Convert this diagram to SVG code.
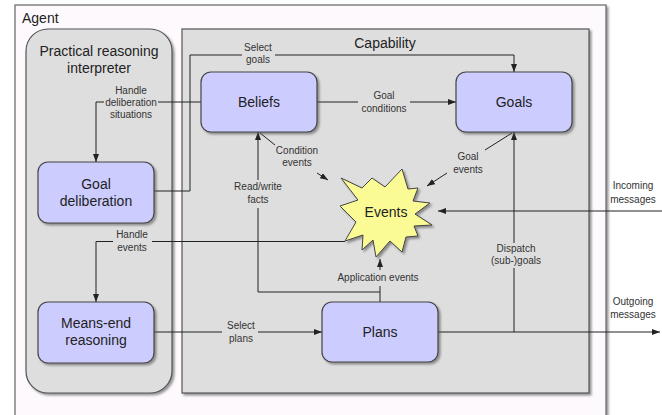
<svg xmlns="http://www.w3.org/2000/svg" width="662" height="415" viewBox="0 0 662 415">
<style>
text{font-family:"Liberation Sans",Arial,sans-serif;fill:#222}
.t14{font-size:14px}
.t10{font-size:10px;fill:#333}
.c{text-anchor:middle}
.node{fill:#ccccff;stroke:#444;stroke-width:1.2}
.grp{fill:#dedede;stroke:#555;stroke-width:1.2}
.con{fill:none;stroke:#222;stroke-width:1}
.arr{fill:none;stroke:#222;stroke-width:1;marker-end:url(#ah)}
</style>
<defs>
<marker id="ah" viewBox="0 0 8 6" refX="8" refY="3" markerWidth="8" markerHeight="6" markerUnits="userSpaceOnUse" orient="auto">
<path d="M0,0 L8,3 L0,6 z" fill="#222"/>
</marker>
<filter id="sh" x="-10%" y="-10%" width="130%" height="130%">
<feDropShadow dx="2" dy="2" stdDeviation="1" flood-color="#555" flood-opacity="0.6"/>
</filter>
</defs>
<rect width="662" height="415" fill="#ffffff"/>
<g id="agent">
<rect x="15" y="5" width="591" height="420" fill="#fdf9fd" stroke="#666" stroke-width="1.2" filter="url(#sh)"/>
<text class="t14" x="22" y="23">Agent</text>
</g>
<g id="interpreter">
<rect class="grp" x="26" y="29" width="146" height="364" rx="22" filter="url(#sh)"/>
<text class="t14 c" x="99" y="56">Practical reasoning</text>
<text class="t14 c" x="99" y="73">interpreter</text>
</g>
<g id="capability">
<rect class="grp" x="182" y="29" width="407" height="364" filter="url(#sh)"/>
<text class="t14 c" x="385" y="48">Capability</text>
</g>
<g id="connectors">
<path class="arr" d="M201,102 H158 M104,102 H96 V162"/>
<path class="arr" d="M154,191 H190 V55 H242 M275,55 H514 V72"/>
<path class="arr" d="M317,102 H358 M410,102 H456"/>
<path class="con" d="M260,133 L275,145"/>
<path class="arr" d="M317,173 L328,180"/>
<path class="con" d="M512,133 L485,150"/>
<path class="arr" d="M447,173 L427,186"/>
<path class="arr" d="M662,211 H438"/>
<path class="arr" d="M345,241.5 H152 M113,241.5 H96 V302"/>
<path class="arr" d="M380,292 H258 V208 M258,180 V132"/>
<path class="con" d="M380,302 V286"/>
<path class="arr" d="M380,270 V259"/>
<path class="arr" d="M154,332 H222 M258,332 H322"/>
<path class="arr" d="M438,332 H660"/>
<path class="arr" d="M514,332 V268 M514,243 V132"/>
<text class="t10 c" x="131" y="94">Handle</text>
<text class="t10 c" x="131" y="106">deliberation</text>
<text class="t10 c" x="131" y="118">situations</text>
<text class="t10 c" x="258" y="51">Select</text>
<text class="t10 c" x="258" y="63">goals</text>
<text class="t10 c" x="384" y="99">Goal</text>
<text class="t10 c" x="384" y="112">conditions</text>
<text class="t10 c" x="297" y="154">Condition</text>
<text class="t10 c" x="297" y="166">events</text>
<text class="t10 c" x="468" y="160">Goal</text>
<text class="t10 c" x="468" y="173">events</text>
<text class="t10 c" x="633" y="189">Incoming</text>
<text class="t10 c" x="633" y="203">messages</text>
<text class="t10 c" x="132" y="238">Handle</text>
<text class="t10 c" x="132" y="251">events</text>
<text class="t10 c" x="258" y="190">Read/write</text>
<text class="t10 c" x="258" y="203">facts</text>
<text class="t10 c" x="378" y="281">Application events</text>
<text class="t10 c" x="241" y="329">Select</text>
<text class="t10 c" x="241" y="342">plans</text>
<text class="t10 c" x="633" y="305">Outgoing</text>
<text class="t10 c" x="633" y="318">messages</text>
<text class="t10 c" x="516" y="252">Dispatch</text>
<text class="t10 c" x="516" y="264">(sub-)goals</text>
</g>
<g id="beliefs">
<rect class="node" x="201" y="72" width="116" height="60" rx="10" filter="url(#sh)"/>
<text class="t14 c" x="259" y="107">Beliefs</text>
</g>
<g id="goals">
<rect class="node" x="456" y="72" width="116" height="60" rx="10" filter="url(#sh)"/>
<text class="t14 c" x="514" y="107">Goals</text>
</g>
<g id="goal-deliberation">
<rect class="node" x="38" y="162" width="116" height="61" rx="10" filter="url(#sh)"/>
<text class="t14 c" x="96" y="189">Goal</text>
<text class="t14 c" x="96" y="206">deliberation</text>
</g>
<g id="means-end">
<rect class="node" x="38" y="302" width="116" height="61" rx="10" filter="url(#sh)"/>
<text class="t14 c" x="96" y="328">Means-end</text>
<text class="t14 c" x="96" y="345">reasoning</text>
</g>
<g id="plans">
<rect class="node" x="322" y="302" width="116" height="60" rx="10" filter="url(#sh)"/>
<text class="t14 c" x="380" y="337">Plans</text>
</g>
<g id="events">
<polygon points="341,178 362,188 372,178 385,187 402,169 408,189 418,188 413,201 430,203 415,214 432,225 414,226 418,236 406,237 402,252 390,241 376,257 373,240 362,250 363,235 345,241 356,222 340,206 358,200" fill="#fbfb96" stroke="#444" stroke-width="1" filter="url(#sh)"/>
<text class="t14 c" x="386" y="217">Events</text>
</g>
</svg>
